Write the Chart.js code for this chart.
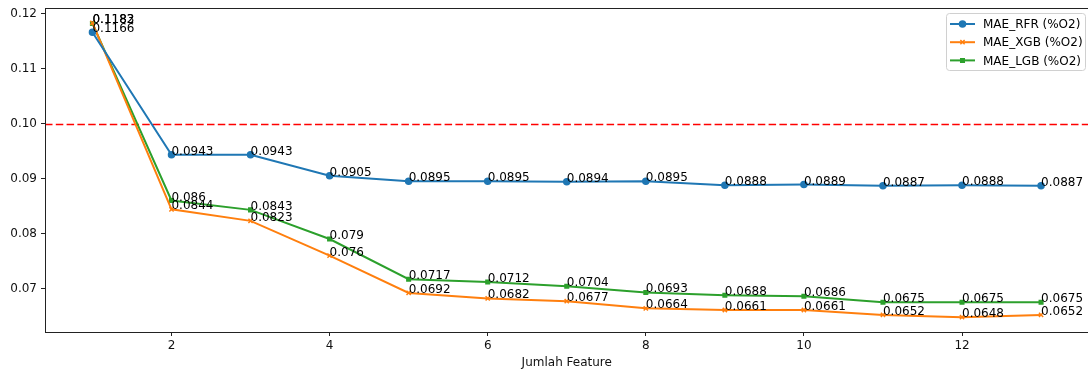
<!DOCTYPE html>
<html>
<head>
<meta charset="utf-8">
<script src="https://cdn.jsdelivr.net/npm/chart.js@4.4.1/dist/chart.umd.min.js"></script>
<style>
  html, body { margin: 0; padding: 0; background: #fff; overflow: hidden; }
  canvas { display: block; }
</style>
</head>
<body>
<canvas id="maeChart" width="1094" height="371"></canvas>
<script>
// jumlah feature (sumbu x)
const features = [1, 2, 3, 4, 5, 6, 7, 8, 9, 10, 11, 12, 13];
const maeRFR = [0.1166, 0.0943, 0.0943, 0.0905, 0.0895, 0.0895, 0.0894, 0.0895, 0.0888, 0.0889, 0.0887, 0.0888, 0.0887];
const maeXGB = [0.1183, 0.0844, 0.0823, 0.076, 0.0692, 0.0682, 0.0677, 0.0664, 0.0661, 0.0661, 0.0652, 0.0648, 0.0652];
const maeLGB = [0.1182, 0.086, 0.0843, 0.079, 0.0717, 0.0712, 0.0704, 0.0693, 0.0688, 0.0686, 0.0675, 0.0675, 0.0675];
const seriesNames = ['MAE_RFR (%O2)', 'MAE_XGB (%O2)', 'MAE_LGB (%O2)'];
const xTicks = [2, 4, 6, 8, 10, 12];
const yTicks = [0.07, 0.08, 0.09, 0.10, 0.11, 0.12];
const threshold = 0.10;

const FONT = 'DejaVu Sans';
const FS = 12;
const toPoints = arr => arr.map((v, i) => ({ x: features[i], y: v }));

// label angka di setiap titik
const valueLabels = {
    id: 'valueLabels',
    afterDatasetsDraw(chart) {
        const ctx = chart.ctx;
        ctx.save();
        ctx.font = FS + 'px ' + FONT;
        ctx.fillStyle = '#000';
        ctx.textAlign = 'left';
        ctx.textBaseline = 'alphabetic';
        chart.data.datasets.forEach((ds, di) => {
            chart.getDatasetMeta(di).data.forEach((pt, i) => {
                ctx.fillText(String(ds.data[i].y), pt.x, pt.y);
            });
        });
        ctx.restore();
    }
};

// garis merah putus-putus + bingkai
const extras = {
    id: 'extras',
    beforeDatasetsDraw(chart) {
        const { ctx, chartArea: a, scales } = chart;
        const y = Math.round(scales.y.getPixelForValue(threshold)) + 0.5;
        ctx.save();
        ctx.strokeStyle = '#ff0000';
        ctx.lineWidth = 1.5;
        ctx.setLineDash([7.5, 3.3]);
        ctx.beginPath();
        ctx.moveTo(a.left, y);
        ctx.lineTo(a.right, y);
        ctx.stroke();
        ctx.restore();
    },
    afterDraw(chart) {
        const { ctx, chartArea: a } = chart;
        ctx.save();
        ctx.strokeStyle = '#222';
        ctx.lineWidth = 1;
        ctx.strokeRect(Math.round(a.left) + 0.5, Math.round(a.top) + 0.5,
            Math.round(a.right - a.left), Math.round(a.bottom - a.top));
        ctx.restore();
    }
};

// legend gaya matplotlib
const mplLegend = {
    id: 'mplLegend',
    afterDraw(chart) {
        const ctx = chart.ctx;
        const x0 = 946.5, y0 = 13.5, w = 139, h = 57;
        ctx.save();
        ctx.fillStyle = 'rgba(255,255,255,0.8)';
        ctx.strokeStyle = '#d0d0d0';
        ctx.lineWidth = 1;
        ctx.beginPath();
        ctx.roundRect(x0, y0, w, h, 3);
        ctx.fill();
        ctx.stroke();
        chart.data.datasets.forEach((ds, i) => {
            const cy = 24 + i * 18.2;
            ctx.strokeStyle = ds.borderColor;
            ctx.fillStyle = ds.borderColor;
            ctx.lineWidth = 2;
            ctx.beginPath();
            ctx.moveTo(950, cy);
            ctx.lineTo(975, cy);
            ctx.stroke();
            ctx.lineWidth = 1.5;
            Chart.helpers.drawPoint(ctx, {
                pointStyle: ds.pointStyle,
                radius: ds.pointRadius,
                borderWidth: 1.5
            }, 962.5, cy);
            ctx.fillStyle = '#000';
            ctx.font = FS + 'px ' + FONT;
            ctx.textBaseline = 'middle';
            ctx.textAlign = 'left';
            ctx.fillText(seriesNames[i], 983, cy + 1);
        });
        ctx.restore();
    }
};

function mkSet(i, data, color, style, r) {
    return {
        label: seriesNames[i],
        data: toPoints(data),
        borderColor: color,
        backgroundColor: color,
        borderWidth: 2,
        pointStyle: style,
        pointRadius: r,
        pointBorderWidth: 1.5,
        pointBorderColor: color,
        pointBackgroundColor: color,
        tension: 0
    };
}

new Chart(document.getElementById('maeChart').getContext('2d'), {
    type: 'line',
    data: {
        datasets: [
            mkSet(0, maeRFR, '#1f77b4', 'circle', 3),
            mkSet(1, maeXGB, '#ff7f0e', 'crossRot', 3),
            mkSet(2, maeLGB, '#2ca02c', 'rect', 2.5)
        ]
    },
    options: {
        responsive: false,
        animation: false,
        layout: { padding: { top: 8, right: 1, left: 0, bottom: 0 } },
        plugins: {
            legend: { display: false },
            tooltip: { enabled: false }
        },
        scales: {
            x: {
                type: 'linear',
                min: 0.4,
                max: 13.6,
                afterBuildTicks: s => { s.ticks = xTicks.map(v => ({ value: v })); },
                afterFit: s => { s.height = 39; s.paddingLeft = 0; s.paddingRight = 0; },
                grid: { drawOnChartArea: false, drawTicks: true, tickLength: 4, color: '#222' },
                border: { display: false },
                ticks: { color: '#111', font: { family: FONT, size: FS }, padding: 3, maxRotation: 0 },
                title: { display: true, text: 'Jumlah Feature', color: '#111', font: { family: FONT, size: FS }, padding: { top: 0, bottom: 1 } }
            },
            y: {
                min: 0.0621,
                max: 0.1210,
                afterBuildTicks: s => { s.ticks = yTicks.map(v => ({ value: v })); },
                afterFit: s => { s.width = 45; s.paddingTop = 0; s.paddingBottom = 0; },
                grid: { drawOnChartArea: false, drawTicks: true, tickLength: 4, color: '#222' },
                border: { display: false },
                ticks: { color: '#111', font: { family: FONT, size: FS }, padding: 4, callback: v => v.toFixed(2) }
            }
        }
    },
    plugins: [extras, valueLabels, mplLegend]
});
</script>
</body>
</html>
